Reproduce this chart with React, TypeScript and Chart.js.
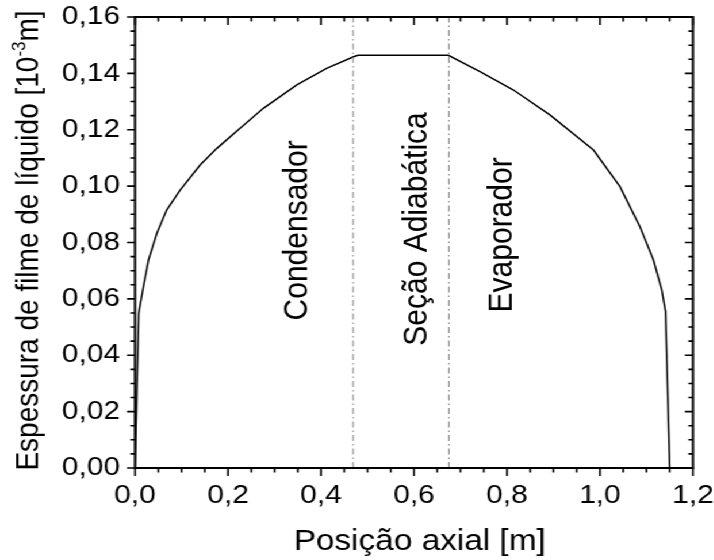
import React, { useEffect, useRef } from 'react';
import { Chart, registerables } from 'chart.js';

Chart.register(...registerables);

// ---- data ----
const posX = [0, 0.008, 0.018, 0.029, 0.047, 0.068, 0.097, 0.14, 0.176, 0.226, 0.276, 0.348, 0.412, 0.47, 0.48, 0.674, 0.742, 0.814, 0.893, 0.986, 1.043, 1.086, 1.115, 1.133, 1.141, 1.15];
const thickness = [0, 0.0549, 0.0643, 0.0738, 0.0833, 0.0915, 0.0986, 0.1075, 0.1134, 0.1205, 0.1276, 0.1359, 0.1418, 0.1459, 0.1464, 0.1464, 0.1406, 0.1341, 0.1252, 0.1128, 0.0998, 0.0856, 0.0738, 0.0631, 0.0555, 0];
const sectionBounds = [0.469, 0.675];
const sectionLabels = ['Condensador', 'Seção Adiabática', 'Evaporador'];
const sectionLabelX = [0.35, 0.606, 0.791];
const sectionLabelY = [0.0843, 0.0848, 0.0827];
const xMajorTicks = [0, 0.2, 0.4, 0.6, 0.8, 1.0, 1.2];
const yMajorTicks = [0, 0.02, 0.04, 0.06, 0.08, 0.1, 0.12, 0.14, 0.16];
const minorPerMajor = 4;
const xTitle = 'Posição axial [m]';
const yTitleMain = 'Espessura de filme de líquido [10';
const yTitleSup = '-3';
const yTitleEnd = 'm]';

const FONT = '"Liberation Sans", Arial, sans-serif';
const STRETCH = 1.15;
const W = 621;
const H = 560;

function minorTicks(major: number[]) {
  const out: number[] = [];
  for (let i = 0; i < major.length - 1; i++) {
    const a = major[i];
    const b = major[i + 1];
    for (let k = 1; k < minorPerMajor; k++) out.push(a + ((b - a) * k) / minorPerMajor);
  }
  return out;
}

const zeroPad = (s: any) => {
  s.paddingTop = 0;
  s.paddingBottom = 0;
  s.paddingLeft = 0;
  s.paddingRight = 0;
};

const framePlugin = {
  id: 'frameTicks',
  afterDraw(chart: any) {
    const { ctx, chartArea: a, scales } = chart;
    const xs = scales.x;
    const ys = scales.y;
    ctx.save();
    ctx.strokeStyle = '#000';
    ctx.fillStyle = '#000';
    ctx.lineCap = 'butt';

    // ticks
    ctx.lineWidth = 1.6;
    const vMaj = 8, vMin = 4.5, hMaj = 7, hMin = 4;
    const drawX = (vals: number[], len: number) => {
      vals.forEach((v) => {
        const px = xs.getPixelForValue(v);
        ctx.beginPath();
        ctx.moveTo(px, a.bottom);
        ctx.lineTo(px, a.bottom + len);
        ctx.moveTo(px, a.top);
        ctx.lineTo(px, a.top + len);
        ctx.stroke();
      });
    };
    const drawY = (vals: number[], len: number) => {
      vals.forEach((v) => {
        const py = ys.getPixelForValue(v);
        ctx.beginPath();
        ctx.moveTo(a.left, py);
        ctx.lineTo(a.left - len, py);
        ctx.moveTo(a.right, py);
        ctx.lineTo(a.right - len, py);
        ctx.stroke();
      });
    };
    drawX(xMajorTicks, vMaj);
    drawX(minorTicks(xMajorTicks), vMin);
    drawY(yMajorTicks, hMaj);
    drawY(minorTicks(yMajorTicks), hMin);

    // frame
    ctx.lineWidth = 2;
    ctx.strokeRect(a.left, a.top, a.right - a.left, a.bottom - a.top);

    // section labels
    ctx.font = `30px ${FONT}`;
    ctx.textAlign = 'center';
    ctx.textBaseline = 'middle';
    sectionLabels.forEach((t, i) => {
      ctx.save();
      ctx.translate(xs.getPixelForValue(sectionLabelX[i]), ys.getPixelForValue(sectionLabelY[i]));
      ctx.rotate(-Math.PI / 2);
      ctx.fillText(t, 0, 0);
      ctx.restore();
    });

    // x title
    ctx.font = `29px ${FONT}`;
    ctx.textAlign = 'center';
    ctx.textBaseline = 'alphabetic';
    ctx.fillText(xTitle, (a.left + a.right) / 2 + 5, 550);

    // y title with superscript
    const bigFont = `28px ${FONT}`;
    const supFont = `17px ${FONT}`;
    ctx.font = bigFont;
    const w1 = ctx.measureText(yTitleMain).width;
    const w3 = ctx.measureText(yTitleEnd).width;
    ctx.font = supFont;
    const w2 = ctx.measureText(yTitleSup).width;
    const total = w1 + w2 + w3;
    ctx.save();
    ctx.translate(33, (a.top + a.bottom) / 2 - 2);
    ctx.rotate(-Math.PI / 2);
    ctx.textAlign = 'left';
    ctx.textBaseline = 'alphabetic';
    let u = -total / 2;
    ctx.font = bigFont;
    ctx.fillText(yTitleMain, u, 0);
    u += w1;
    ctx.font = supFont;
    ctx.fillText(yTitleSup, u, -11);
    u += w2;
    ctx.font = bigFont;
    ctx.fillText(yTitleEnd, u, 0);
    ctx.restore();

    ctx.restore();
  },
};

export default function App() {
  const ref = useRef<HTMLCanvasElement | null>(null);

  useEffect(() => {
    if (!ref.current) return;
    const curve = posX.map((x, i) => ({ x, y: thickness[i] }));
    const boundSets = sectionBounds.map((b) => ({
      data: [
        { x: b, y: 0 },
        { x: b, y: 0.16 },
      ],
      borderColor: '#7f7f7f',
      borderWidth: 1,
      borderDash: [6, 3, 1.5, 3],
      pointRadius: 0,
      fill: false,
    }));
    const chart = new Chart(ref.current, {
      type: 'line',
      data: {
        datasets: [
          ...boundSets,
          {
            data: curve,
            borderColor: '#000',
            borderWidth: 1.5,
            pointRadius: 0,
            fill: false,
            tension: 0,
          },
        ],
      },
      options: {
        animation: false,
        responsive: false,
        devicePixelRatio: 1,
        events: [],
        layout: { padding: { left: 0, top: 17, right: 18.4, bottom: 0 } },
        plugins: { legend: { display: false }, tooltip: { enabled: false } },
        scales: {
          x: {
            type: 'linear',
            min: 0,
            max: 1.2,
            grid: { display: false, drawTicks: false },
            border: { display: false },
            ticks: {
              stepSize: 0.2,
              padding: 12,
              color: '#000',
              font: { family: FONT, size: 26 },
              maxRotation: 0,
              callback: (v: any) => Number(v).toFixed(1).replace('.', ','),
            },
            afterFit: (s: any) => {
              s.height = 92;
              zeroPad(s);
            },
          },
          y: {
            type: 'linear',
            min: 0,
            max: 0.16,
            grid: { display: false, drawTicks: false },
            border: { display: false },
            ticks: {
              stepSize: 0.02,
              padding: 13,
              color: '#000',
              font: { family: FONT, size: 26 },
              callback: (v: any) => Number(v).toFixed(2).replace('.', ','),
            },
            afterFit: (s: any) => {
              s.width = 117.4;
              zeroPad(s);
            },
          },
        },
      },
      plugins: [framePlugin],
    } as any);
    return () => chart.destroy();
  }, []);

  return (
    <div
      style={{
        position: 'absolute',
        left: 0,
        top: 0,
        width: W,
        height: H,
        transform: `scaleX(${STRETCH})`,
        transformOrigin: '0 0',
        background: '#fff',
      }}
    >
      <canvas ref={ref} width={W} height={H} style={{ display: 'block' }} />
    </div>
  );
}
